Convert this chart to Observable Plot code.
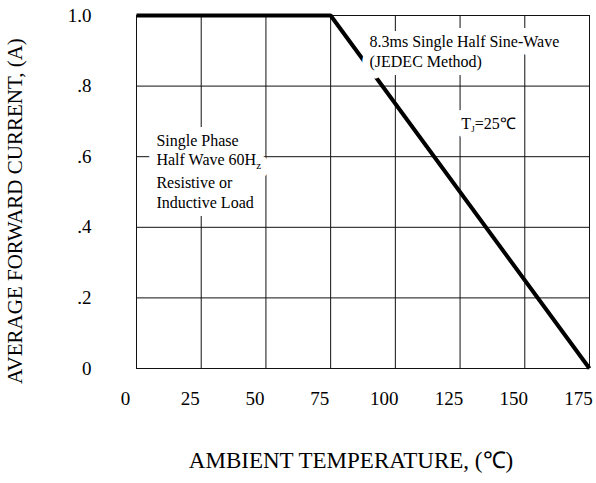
<!DOCTYPE html>
<html>
<head>
<meta charset="utf-8">
<script src="https://cdn.jsdelivr.net/npm/d3@7"></script>
<script src="https://cdn.jsdelivr.net/npm/@observablehq/plot@0.6"></script>
<style>
  html, body { margin: 0; padding: 0; background: white; }
</style>
</head>
<body>
<div id="chart"></div>
<script>
// Derating curve: ambient temperature (°C) vs average forward current (A)
const temperature = [0, 75, 175];
const current = [1.0, 1.0, 0];

const xTicks = [0, 25, 50, 75, 100, 125, 150, 175];
const yTicks = [0, 0.2, 0.4, 0.6, 0.8, 1.0];
const yTickLabels = ["0", ".2", ".4", ".6", ".8", "1.0"];

const xTitle = "AMBIENT TEMPERATURE, (\u2103)";
const yTitle = "AVERAGE FORWARD CURRENT, (A)";

const noteTexts = [
  "8.3ms Single Half Sine-Wave\n(JEDEC Method)",
  "Single Phase\nHalf Wave 60Hz\nResistive or\nInductive Load",
  "TJ=25\u2103"
];
const noteX = [90, 7.7, 125.5];
const noteY = [0.90, 0.566, 0.697];

const curve = temperature.map((t, i) => ({t, a: current[i]}));
const notes = noteTexts.map((text, i) => ({text, x: noteX[i], y: noteY[i]}));

const serif = "'Liberation Serif', 'Times New Roman', serif";
const noteOpts = {x: "x", y: "y", text: "text", textAnchor: "start", lineAnchor: "middle",
  lineHeight: 1.2, fontSize: 16, fontFamily: serif};

const chart = Plot.plot({
  width: 596,
  height: 483,
  marginLeft: 136,
  marginRight: 7,
  marginTop: 15,
  marginBottom: 115,
  style: {fontFamily: serif, fontSize: "18px", color: "black", background: "white"},
  x: {domain: [0, 175]},
  y: {domain: [0, 1]},
  marks: [
    Plot.ruleX(xTicks, {stroke: "#111", strokeWidth: 1}),
    Plot.ruleY(yTicks, {stroke: "#111", strokeWidth: 1}),
    Plot.line(curve, {x: "t", y: "a", stroke: "black", strokeWidth: 4, strokeLinejoin: "miter", strokeLinecap: "butt"}),
    Plot.text(notes, {...noteOpts, fill: "white", stroke: "white", strokeWidth: 16, className: "halo"}),
    Plot.text(notes, {...noteOpts, fill: "black"}),
    Plot.axisX(xTicks, {tickSize: 0, tickPadding: 23, dx: -11, fontSize: 19, label: null}),
    Plot.axisY(yTicks, {tickSize: 0, tickPadding: 45, fontSize: 19, label: null,
      tickFormat: d => yTickLabels[yTicks.indexOf(d)]}),
    Plot.text([xTitle], {frameAnchor: "bottom", text: d => d, dy: 99, dx: -12, fontSize: 23}),
    Plot.text([yTitle], {frameAnchor: "left", textAnchor: "middle", text: d => d, rotate: -90, dx: -121, dy: 19, fontSize: 21})
  ]
});

// subscripts for "Hz" and "TJ"
d3.select(chart).selectAll("text tspan, text").each(function() {
  const el = d3.select(this);
  if (this.childElementCount > 0) return;
  const s = this.textContent;
  if (s === "Half Wave 60Hz") {
    el.text("Half Wave 60H");
    el.append("tspan").attr("font-size", 11).attr("dy", 4).text("z");
  } else if (s === "TJ=25\u2103") {
    el.text("T");
    el.append("tspan").attr("font-size", 9).attr("dy", 3).text("J");
    el.append("tspan").attr("dy", -3).text("=25\u2103");
  }
});

document.getElementById("chart").appendChild(chart);
</script>
</body>
</html>
